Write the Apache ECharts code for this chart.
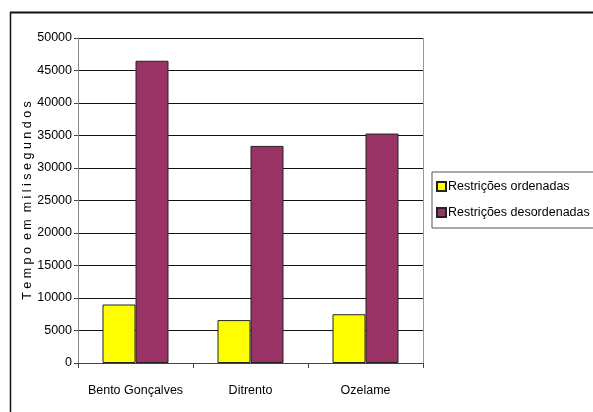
<!DOCTYPE html>
<html>
<head>
<meta charset="utf-8">
<script src="https://cdn.jsdelivr.net/npm/echarts@6/dist/echarts.min.js"></script>
<style>
  html, body { margin: 0; padding: 0; background: #fff; }
  #chart { width: 593px; height: 412px; }
</style>
</head>
<body>
<div id="chart"></div>
<script>
const categories = ['Bento Gonçalves', 'Ditrento', 'Ozelame'];
const ordenadas = [9000, 6600, 7500];
const desordenadas = [46500, 33400, 35300];
const seriesNames = ['Restrições ordenadas', 'Restrições desordenadas'];
const yTitle = 'T e m p o  e m  m i l i s e g u n d o s';

const chart = echarts.init(document.getElementById('chart'));
const font = 'Liberation Sans, Arial, sans-serif';

const option = {
    animation: false,
    backgroundColor: '#fff',
    textStyle: { fontFamily: font },
    graphic: [
        // moldura externa (só topo e esquerda aparecem)
        { type: 'line', shape: { x1: 10, y1: 12.5, x2: 593, y2: 12.5 }, style: { stroke: '#111', lineWidth: 2 } },
        { type: 'line', shape: { x1: 10.5, y1: 12, x2: 10.5, y2: 412 }, style: { stroke: '#111', lineWidth: 1.5 } },
        // borda direita da área do gráfico
        { type: 'line', shape: { x1: 423.5, y1: 38, x2: 423.5, y2: 363 }, style: { stroke: '#999', lineWidth: 1 } }
    ],
    grid: { left: 78, right: 170, top: 38, bottom: 49 },
    legend: {
        orient: 'vertical',
        left: 432,
        top: 172,
        width: 160,
        padding: [8, 10, 9, 4],
        itemGap: 13,
        itemWidth: 9,
        itemHeight: 9,
        borderColor: '#555',
        borderWidth: 1,
        icon: 'rect',
        textStyle: { fontSize: 12.5, color: '#000', fontFamily: font, padding: [0, 0, 0, -3] },
        data: seriesNames
    },
    xAxis: {
        type: 'category',
        data: categories,
        axisLine: { lineStyle: { color: '#444', width: 1 } },
        axisTick: { show: true, length: 5, lineStyle: { color: '#444' } },
        axisLabel: { color: '#000', fontSize: 12.5, margin: 21, interval: 0, fontFamily: font }
    },
    yAxis: {
        type: 'value',
        min: 0,
        max: 50000,
        interval: 5000,
        name: yTitle,
        nameLocation: 'middle',
        nameGap: 44,
        nameMoveOverlap: false,
        nameTextStyle: { color: '#000', fontSize: 12.5, fontFamily: font },
        axisLine: { show: true, lineStyle: { color: '#888' } },
        axisTick: { show: true, length: 4, lineStyle: { color: '#444' } },
        axisLabel: { color: '#000', fontSize: 12.5, margin: 6, fontFamily: font, formatter: v => String(v) },
        splitLine: { lineStyle: { color: '#111', width: 1 } }
    },
    series: [
        {
            name: seriesNames[0],
            type: 'bar',
            data: ordenadas,
            barWidth: 33,
            barGap: '0%',
            itemStyle: { color: '#ffff00', borderColor: '#222', borderWidth: 1 }
        },
        {
            name: seriesNames[1],
            type: 'bar',
            data: desordenadas,
            barWidth: 33,
            itemStyle: { color: '#993366', borderColor: '#222', borderWidth: 1 }
        }
    ]
};

chart.setOption(option);
</script>
</body>
</html>
